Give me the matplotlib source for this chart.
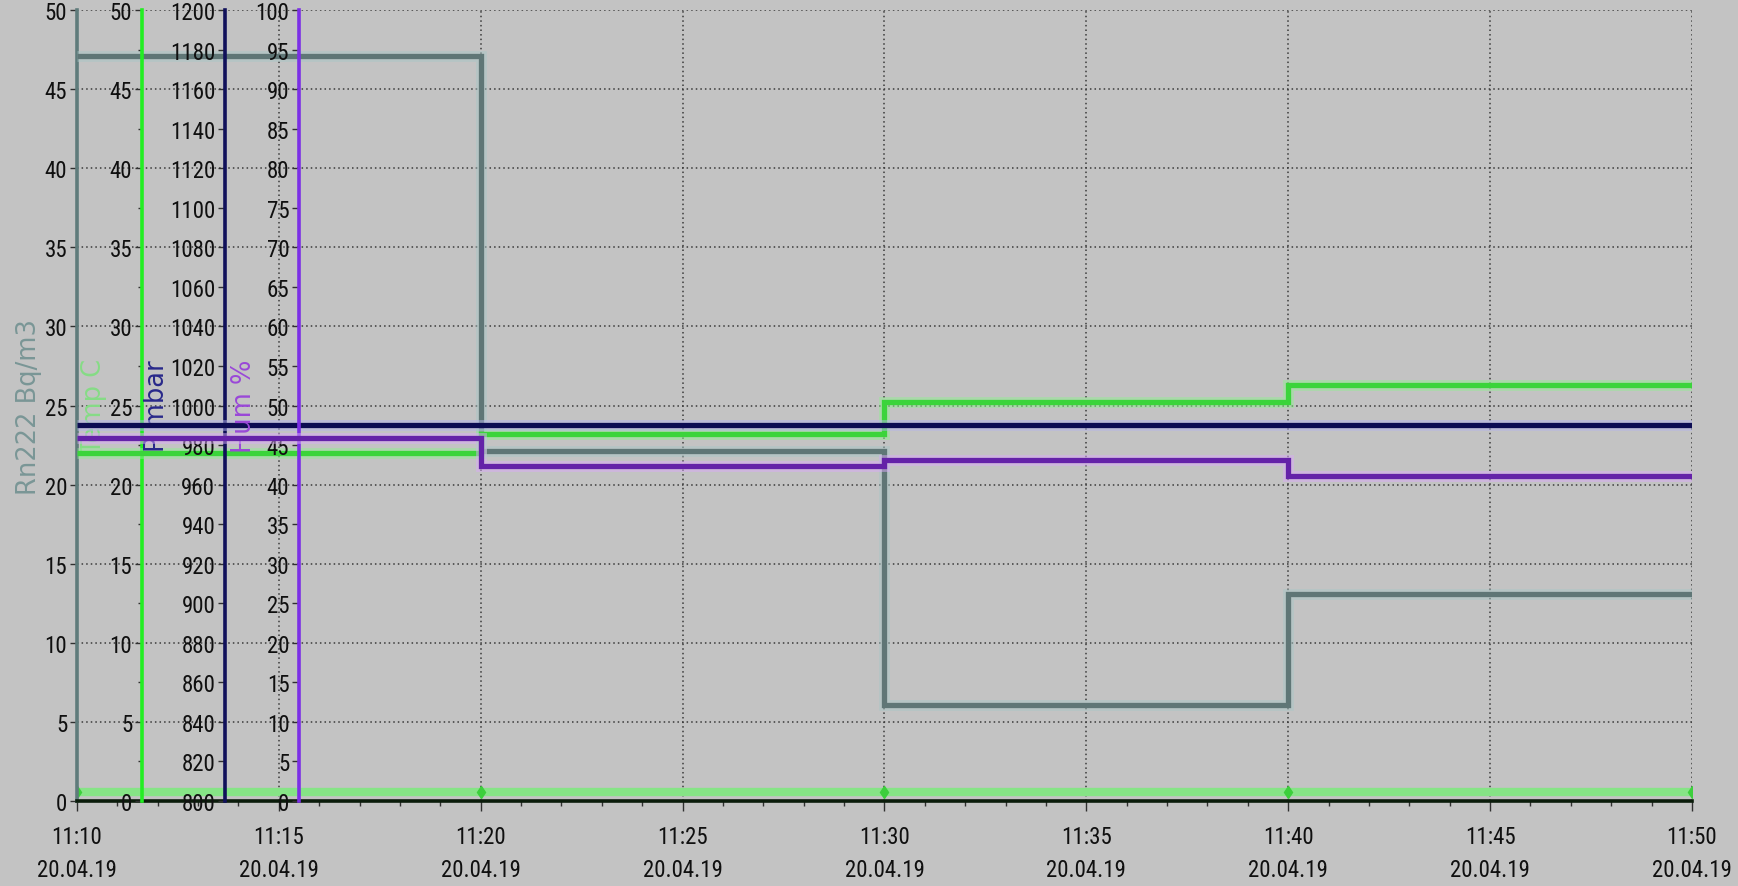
import matplotlib
matplotlib.use("Agg")
import matplotlib.pyplot as plt
import matplotlib.dates as mdates
import matplotlib.patheffects as pe
from matplotlib.ticker import MultipleLocator
from matplotlib import font_manager
import pandas as pd

# Readings (step values held until the next reading)
times = pd.to_datetime([
    "2019-04-20 11:10", "2019-04-20 11:20", "2019-04-20 11:30",
    "2019-04-20 11:40", "2019-04-20 11:50",
])
rn222_bq_m3 = [47.1, 22.1, 6.1, 13.1, 13.1]
temp_c = [22.0, 23.2, 25.2, 26.3, 26.3]
pressure_mbar = [990, 990, 990, 990, 990]
humidity_pct = [45.9, 42.3, 43.1, 41.1, 41.1]
status_level = [0.6, 0.6, 0.6, 0.6, 0.6]

axis_titles = ["Rn222 Bq/m3", "Temp C", "P mbar", "Hum %"]

BG = "#c3c3c3"
C_RN, C_RN_SP, C_RN_LBL = "#5f7676", "#5f7b7b", "#7a9696"
C_T, C_T_SP, C_T_LBL = "#3bd43b", "#22ee22", "#86dc86"
C_P, C_P_SP, C_P_LBL = "#0c0c52", "#10105a", "#28288a"
C_H, C_H_SP, C_H_LBL = "#6422a8", "#7b2fe6", "#9a48d8"

avail = {f.name for f in font_manager.fontManager.ttflist}
narrow = [n for n in ("Liberation Sans Narrow", "Roboto Condensed", "Open Sans Condensed")
          if n in avail]
if narrow:
    TICK_FONT, TICK_SIZE = [narrow[0], "DejaVu Sans"], 16.5
else:
    TICK_FONT, TICK_SIZE = ["Liberation Sans", "DejaVu Sans"], 15
TITLE_SIZE = 18.5

fig = plt.figure(figsize=(17.38, 8.87), dpi=100, facecolor=BG)
ax = fig.add_axes([0.0443, 0.0958, 0.9292, 0.8918])
ax.set_facecolor(BG)


def step_line(axis, y, color, halo, lw=3.8, z=3):
    axis.step(times, y, where="post", color=color, lw=lw, zorder=z,
              solid_capstyle="butt", solid_joinstyle="miter",
              path_effects=[pe.Stroke(linewidth=lw + 4, foreground=halo, alpha=0.5),
                            pe.Normal()])


def style_y(axis, color, lw_spine=2.6):
    axis.tick_params(axis="y", which="major", direction="out", length=5, width=1,
                     color="#303030", pad=2, labelsize=TICK_SIZE, labelcolor="#101010")
    for t in axis.get_yticklabels():
        t.set_family(TICK_FONT)
    axis.spines["left"].set_color(color)
    axis.spines["left"].set_linewidth(lw_spine)


# Radon axis (main)
ax.set_xlim(times[0], times[-1])
ax.set_ylim(0, 50)
ax.yaxis.set_major_locator(MultipleLocator(5))
ax.xaxis.set_major_locator(mdates.MinuteLocator(byminute=range(0, 60, 5)))
ax.xaxis.set_minor_locator(mdates.MinuteLocator())
ax.xaxis.set_major_formatter(mdates.DateFormatter("%H:%M\n%d.%m.%y"))
ax.grid(True, which="major", color="#3a3a3a", lw=1.1, linestyle=(0, (1, 2)))
ax.set_axisbelow(True)
for s in ("top", "right"):
    ax.spines[s].set_visible(False)
ax.spines["bottom"].set_color("#0b1c0b")
ax.spines["bottom"].set_linewidth(2.6)
ax.tick_params(axis="x", which="major", direction="out", length=7, width=1,
               color="#303030", pad=10, labelsize=TICK_SIZE, labelcolor="#101010")
ax.tick_params(axis="x", which="minor", direction="out", length=3.5, width=1,
               color="#303030")
for t in ax.get_xticklabels():
    t.set_family(TICK_FONT)
    t.set_linespacing(1.6)
style_y(ax, C_RN_SP)
ax.set_ylabel(axis_titles[0], color=C_RN_LBL, fontsize=TITLE_SIZE, family="DejaVu Sans",
              va="center")
ax.yaxis.set_label_coords(-0.0295, 0.5)

# Status baseline along the time axis
ax.plot(times, status_level, color="#86e486", lw=6, zorder=2, solid_capstyle="butt",
        marker="d", markersize=6, markerfacecolor="#3ccf3c", markeredgecolor="#3ccf3c")
step_line(ax, rn222_bq_m3, C_RN, "#a9c6c6")


def extra_axis(pos, ylim, major, color, title, label_x, label_color, minor=None):
    a = ax.twinx()
    a.set_ylim(*ylim)
    a.yaxis.set_major_locator(MultipleLocator(major))
    if minor:
        a.yaxis.set_minor_locator(MultipleLocator(minor))
        a.tick_params(axis="y", which="minor", direction="out", length=3, width=1,
                      color="#303030")
    a.yaxis.set_ticks_position("left")
    a.yaxis.set_label_position("left")
    for s in ("top", "right", "bottom"):
        a.spines[s].set_visible(False)
    a.spines["left"].set_visible(True)
    a.spines["left"].set_position(("axes", pos))
    style_y(a, color)
    a.set_ylabel(title, color=label_color, fontsize=TITLE_SIZE, family="DejaVu Sans",
                 va="center")
    a.yaxis.set_label_coords(label_x, 0.5)
    return a


ax_t = extra_axis(0.0402, (0, 50), 5, C_T_SP, axis_titles[1], 0.0105, C_T_LBL, minor=2.5)
ax_p = extra_axis(0.0916, (800, 1200), 20, C_P_SP, axis_titles[2], 0.0495, C_P_LBL)
ax_h = extra_axis(0.1375, (0, 100), 5, C_H_SP, axis_titles[3], 0.1035, C_H_LBL)

step_line(ax_t, temp_c, C_T, "#92ee92")
step_line(ax_p, pressure_mbar, C_P, "#b4b4ec")
step_line(ax_h, humidity_pct, C_H, "#d9aaf8")

fig.savefig("out.png", dpi=100, facecolor=BG)
